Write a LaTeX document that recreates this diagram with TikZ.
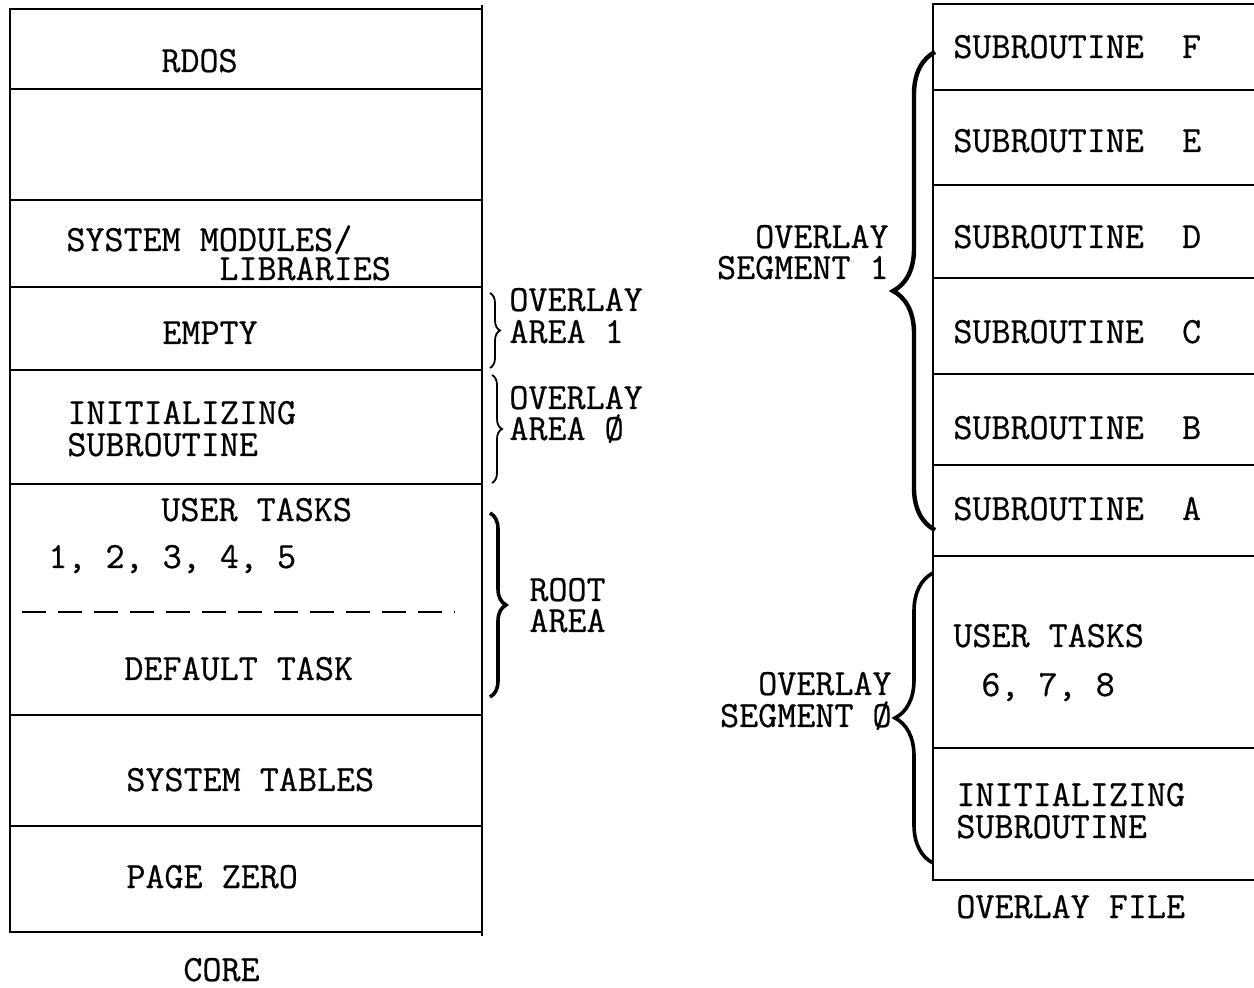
\documentclass[tikz,border=0pt]{standalone}
\usepackage{fontspec}
\usetikzlibrary{decorations.pathreplacing}
\newfontfamily\typew{Latin Modern Mono}[FakeBold=0.6]
\newcommand{\tw}{\typew\fontsize{18.5}{20}\selectfont}
\begin{document}
\begin{tikzpicture}[x=0.5pt,y=-0.5pt,line width=1.4pt,
  txt/.style={font=\tw, inner sep=0pt, anchor=base west},
  rtxt/.style={font=\tw, inner sep=0pt, anchor=base east},
  thinbrace/.style={decorate, decoration={brace, amplitude=5pt}, line width=0.9pt},
  rootbrace/.style={decorate, decoration={brace, amplitude=8pt}, line width=1.8pt},
  segbrace/.style={decorate, decoration={brace, amplitude=#1}, line width=2.2pt},
  dashline/.style={line width=1.2pt, dash pattern=on 12pt off 6pt}]
\useasboundingbox (0,0) rectangle (1254,988);
% ---- CORE column ----
\draw (482,5) -- (482,936);
\draw (482,9) -- (10,9) -- (10,932) -- (482,932);
\foreach \y in {89,200,287,370,484,715,826} \draw (10,\y) -- (482,\y);
\draw[dashline] (22,612) -- (455,612);
\node[txt] (rdos) at (160,72) {RDOS};
\node[txt] (sysmod) at (65,251) {SYSTEM MODULES/};
\node[txt] (libs) at (218,280) {LIBRARIES};
\node[txt] (empty) at (161,344) {EMPTY};
\node[txt] (init1) at (66,424) {INITIALIZING};
\node[txt] (init2) at (66,456) {SUBROUTINE};
\node[txt] (ut1) at (160,521) {USER TASKS};
\node[txt] (ut2) at (47,568) {1, 2, 3, 4, 5};
\node[txt] (deft) at (123,680) {DEFAULT TASK};
\node[txt] (systab) at (125,791) {SYSTEM TABLES};
\node[txt] (pz) at (125,888) {PAGE ZERO};
\node[txt] (core) at (182,981) {CORE};
% ---- braces for core ----
\draw[thinbrace] (490,293) -- (490,368);
\draw[thinbrace] (492,375) -- (492,483);
\draw[rootbrace] (490,513) -- (490,697);
\node[txt] (oa1a) at (508,311) {OVERLAY};
\node[txt] (oa1b) at (508,343) {AREA 1};
\node[txt] (oa0a) at (508,409) {OVERLAY};
\node[txt] (oa0b) at (508,440) {AREA Ø};
\node[txt] (roota) at (528,601) {ROOT};
\node[txt] (rootb) at (528,632) {AREA};
% ---- OVERLAY FILE column ----
\draw (1254,4) -- (933,4) -- (933,880) -- (1254,880);
\foreach \y in {90,185,278,374,465,556,748} \draw (933,\y) -- (1254,\y);
\node[txt] (sf) at (952,58) {SUBROUTINE\ \ F};
\node[txt] (se) at (952,152) {SUBROUTINE\ \ E};
\node[txt] (sd) at (952,248) {SUBROUTINE\ \ D};
\node[txt] (sc) at (952,343) {SUBROUTINE\ \ C};
\node[txt] (sb) at (952,439) {SUBROUTINE\ \ B};
\node[txt] (sa) at (952,520) {SUBROUTINE\ \ A};
\node[txt] (ut3) at (952,647) {USER TASKS};
\node[txt] (ut4) at (980,696) {6, 7, 8};
\node[txt] (init3) at (955,806) {INITIALIZING};
\node[txt] (init4) at (955,838) {SUBROUTINE};
\node[txt] (ofile) at (955,918) {OVERLAY FILE};
% ---- braces for overlay file ----
\draw[segbrace=21pt] (935,530) -- (935,52);
\draw[segbrace=19pt, line width=1.8pt] (933,863) -- (933,573);
\node[rtxt] (os1a) at (890,248) {OVERLAY};
\node[rtxt] (os1b) at (890,279) {SEGMENT 1};
\node[rtxt] (os0a) at (893,695) {OVERLAY};
\node[rtxt] (os0b) at (893,727) {SEGMENT Ø};
\end{tikzpicture}
\end{document}
